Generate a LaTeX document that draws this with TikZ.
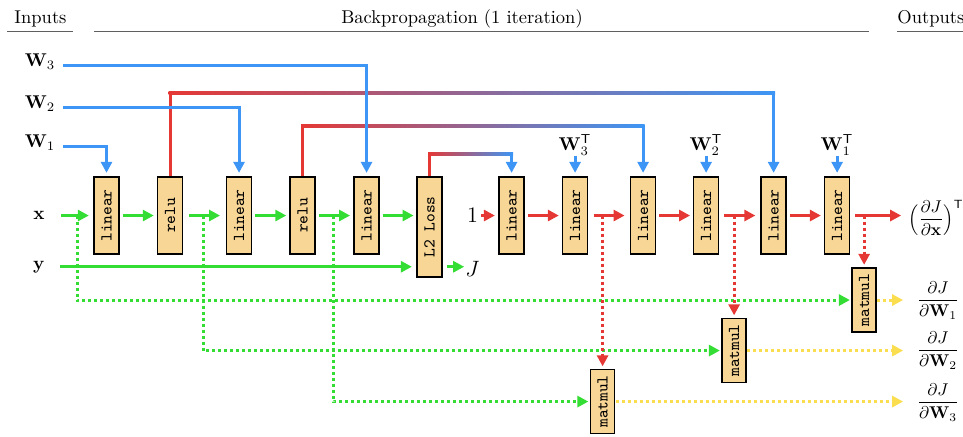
\documentclass[tikz,border=0pt]{standalone}
\usepackage{amsmath}
\usetikzlibrary{arrows.meta,calc}
\definecolor{fwd}{RGB}{51,221,51}
\definecolor{bwd}{RGB}{229,56,53}
\definecolor{wgt}{RGB}{61,150,245}
\definecolor{gradc}{RGB}{250,222,80}
\definecolor{opfill}{RGB}{248,214,150}
\definecolor{rulec}{RGB}{95,95,95}
\newcommand\vtext[1]{\rotatebox{90}{#1}}
% straight arrow of fixed length centred in the gap between two nodes
\newcommand\gaplink[3]{\draw[#1,headtip] ($(#2.east)!.5!(#3.west |- #2.east)+(-15.5,0)$) -- ($(#2.east)!.5!(#3.west |- #2.east)+(15.5,0)$);}
% red riser from node #1, colour-blended rail, blue drop into node #2
\newcommand\rail[3]{%
  \draw[rline] (#1.north) -- (#1.north |- #3);
  \shade[left color=bwd,right color=wgt] ($(#1.north |- #3)+(-1.5,-1.5)$) rectangle ($(#2.north |- #3)+(1.5,1.5)$);
  \draw[bline,headtip,shorten >=3pt] (#2.north |- #3) -- (#2.north);}
\begin{document}
% coordinates are given in output pixels; nodes and text are scaled up with the picture
\begin{tikzpicture}[x=0.54054pt,y=-0.54054pt,scale=1.85,
  headtip/.style={-{Triangle[length=11pt,width=11pt]}},
  every node/.style={transform shape, inner sep=0pt, font=\normalsize},
  op/.style={draw=black, line width=1.3pt, fill=opfill, minimum width=13.5pt, minimum height=41.6pt, font=\small\ttfamily},
  mm/.style={op, minimum width=13pt, minimum height=34.6pt},
  grad/.style={scale=0.92},
  gline/.style={draw=fwd, line width=3pt},
  rline/.style={draw=bwd, line width=3pt},
  bline/.style={draw=wgt, line width=3pt},
  gdot/.style={gline, dash pattern=on 3pt off 3pt},
  rdot/.style={rline, dash pattern=on 3pt off 3pt},
  ydot/.style={draw=gradc, line width=3pt, dash pattern=on 3pt off 3pt},
  headrule/.style={draw=rulec, line width=1pt},
]
\clip (0,0) rectangle (963,437);

% section headings
\node[anchor=base] (hin) at (40.5,23) {Inputs};
\node[anchor=base] (hbp) at (462,23) {Backpropagation (1 iteration)};
\node[anchor=base west] (hout) at (897,23) {Outputs};
\draw[headrule] (7,31) -- (73,31);
\draw[headrule] (94,31) -- (869,31);
\draw[headrule] (897,31) -- (970,31);

% operation boxes
\node[op] (l1) at (106.5,215.5) {\vtext{linear}};
\node[op] (r1) at (170,215.5) {\vtext{relu}};
\node[op] (l2) at (239,215.5) {\vtext{linear}};
\node[op] (r2) at (302.5,215.5) {\vtext{relu}};
\node[op] (l3) at (366.5,215.5) {\vtext{linear}};
\node[op, minimum height=54pt] (loss) at (429.5,227) {\vtext{L2 Loss}};
\node[op] (k1) at (511.5,215.5) {\vtext{linear}};
\node[op] (k2) at (575,215.5) {\vtext{linear}};
\node[op] (k3) at (643,215.5) {\vtext{linear}};
\node[op] (k4) at (706,215.5) {\vtext{linear}};
\node[op] (k5) at (773.5,215.5) {\vtext{linear}};
\node[op] (k6) at (837,215.5) {\vtext{linear}};
\node[mm] (m1) at (864,300) {\vtext{matmul}};
\node[mm] (m2) at (734,350.5) {\vtext{matmul}};
\node[mm] (m3) at (602.5,401.5) {\vtext{matmul}};

% inputs and outputs
\node (w3) at (40,61.5) {$\mathbf{W}_3$};
\node (w2) at (40,103.5) {$\mathbf{W}_2$};
\node (w1) at (40,142.5) {$\mathbf{W}_1$};
\node (xin) at (39,215.5) {$\mathbf{x}$};
\node (yin) at (39,267.5) {$\mathbf{y}$};
\node (one) at (472.5,215.5) {\large$1$};
\node (J) at (472.5,269) {\large$J$};
\node (wt3) at (575,145) {$\mathbf{W}_3^{\mathsf{T}}$};
\node (wt2) at (706,145) {$\mathbf{W}_2^{\mathsf{T}}$};
\node (wt1) at (837,145) {$\mathbf{W}_1^{\mathsf{T}}$};
\node[grad, anchor=west] (dx) at (908,218) {$\Bigl(\dfrac{\partial J}{\partial \mathbf{x}}\Bigr)^{\mathsf{T}}$};
\node[grad] (g1) at (938,300.5) {$\dfrac{\partial J}{\partial \mathbf{W}_1}$};
\node[grad] (g2) at (938,350.5) {$\dfrac{\partial J}{\partial \mathbf{W}_2}$};
\node[grad] (g3) at (938,402.5) {$\dfrac{\partial J}{\partial \mathbf{W}_3}$};

% free ends and branch points
\coordinate (xs) at (61,215.5);
\coordinate (ys) at (60,266.7);
\coordinate (w3s) at (63,65);
\coordinate (w2s) at (63,107);
\coordinate (w1s) at (63,146);
\coordinate (railA) at (0,93);
\coordinate (railB) at (0,126);
\coordinate (railC) at (0,154);
\coordinate (fb1) at (77,215.5);
\coordinate (fb2) at (203,215.5);
\coordinate (fb3) at (333,215.5);
\coordinate (bb1) at (602.5,215.5);
\coordinate (bb2) at (734,215.5);
\coordinate (bb3) at (864,215.5);
\coordinate (ye1) at (903,300);
\coordinate (ye2) at (903,350.5);
\coordinate (ye3) at (903,401.5);

% saved activations to the weight-gradient products
\draw[gdot,headtip,shorten >=1pt] (fb1) |- (m1.west);
\draw[gdot,headtip,shorten >=1pt] (fb2) |- (m2.west);
\draw[gdot,headtip,shorten >=1pt] (fb3) |- (m3.west);
\draw[rdot,headtip,shorten >=2pt] (bb1) -- (m3.north);
\draw[rdot,headtip,shorten >=2pt] (bb2) -- (m2.north);
\draw[rdot,headtip,shorten >=2pt] (bb3) -- (m1.north);
\draw[ydot,headtip] (m1.east) -- (ye1);
\draw[ydot,headtip] (m2.east) -- (ye2);
\draw[ydot,headtip] (m3.east) -- (ye3);

% forward pass
\draw[gline,headtip,shorten >=4pt] (xs) -- (l1.west);
\gaplink{gline}{l1}{r1}
\gaplink{gline}{r1}{l2}
\gaplink{gline}{l2}{r2}
\gaplink{gline}{r2}{l3}
\gaplink{gline}{l3}{loss}
\draw[gline,headtip,shorten >=4pt] (ys) -- (ys -| loss.west);
\draw[gline,headtip] ($(ys -| loss.east)+(4,0)$) -- ($(ys -| J.west)+(-1,0)$);

% backward pass
\draw[rline,headtip,shorten >=3pt] ($(one.east)+(3,0)$) -- (k1.west);
\gaplink{rline}{k1}{k2}
\gaplink{rline}{k2}{k3}
\gaplink{rline}{k3}{k4}
\gaplink{rline}{k4}{k5}
\gaplink{rline}{k5}{k6}
\draw[rline,headtip,shorten >=7pt] ($(k6.east)+(4,0)$) -- (k6.east -| dx.west);

% activation derivatives carried to the backward layers
\rail{r1}{k5}{railA}
\rail{r2}{k3}{railB}
\rail{loss}{k1}{railC}

% weights
\draw[bline,headtip,shorten >=3pt] (w3s) -| (l3.north);
\draw[bline,headtip,shorten >=3pt] (w2s) -| (l2.north);
\draw[bline,headtip,shorten >=3pt] (w1s) -| (l1.north);
\draw[bline,headtip,shorten >=3pt] (wt3.south) -- (k2.north);
\draw[bline,headtip,shorten >=3pt] (wt2.south) -- (k4.north);
\draw[bline,headtip,shorten >=3pt] (wt1.south) -- (k6.north);
\end{tikzpicture}
\end{document}
